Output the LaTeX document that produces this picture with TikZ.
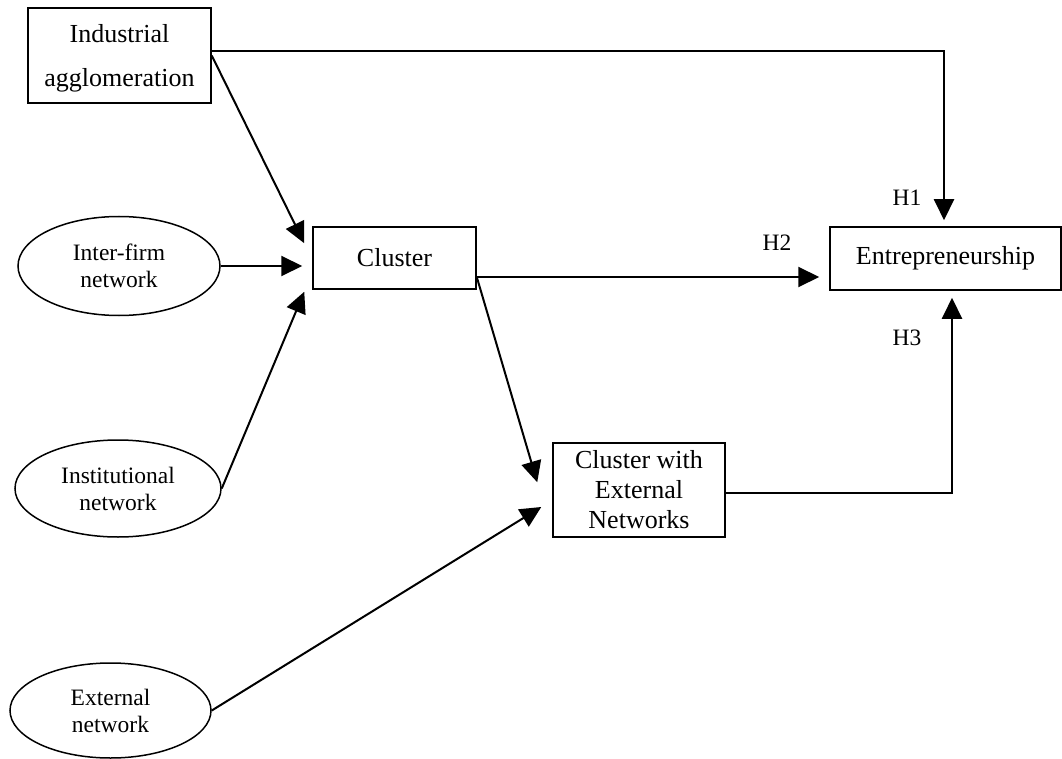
\documentclass[tikz,border=0pt]{standalone}
\usepackage{fontspec}
\setmainfont{Liberation Serif}
\usetikzlibrary{shapes.geometric,arrows.meta}
\tikzset{
  box/.style={draw, line width=1.5pt, rectangle, inner sep=0pt, align=center, font=\fontsize{26}{30}\selectfont},
  oval/.style={draw, line width=1.5pt, ellipse, inner sep=0pt, align=center, font=\fontsize{23.5}{27}\selectfont},
  conn/.style={line width=2pt, -{Triangle[length=21pt,width=20pt]}},
  hlabel/.style={inner sep=0pt, font=\fontsize{23.5}{27}\selectfont}
}
\begin{document}
\begin{tikzpicture}[x=1pt,y=-1pt]
\useasboundingbox (0,0) rectangle (1062,759);
\node[box, minimum width=183pt, minimum height=95pt, font=\fontsize{26}{44}\selectfont] (ia) at (119.5,55.5) {\rule{0pt}{24.6pt}Industrial\\agglomeration};
\node[box, minimum width=163pt, minimum height=62pt] (cl) at (394.5,258) {Cluster};
\node[box, minimum width=231pt, minimum height=63pt] (en) at (945.5,258.5) {Entrepreneurship};
\node[box, minimum width=172pt, minimum height=94pt] (cw) at (639,490) {Cluster with\\External\\Networks};
\node[oval, minimum width=202pt, minimum height=99pt] (if) at (119,266) {Inter-firm\\network};
\node[oval, minimum width=206pt, minimum height=97pt] (in) at (118,488.5) {Institutional\\network};
\node[oval, minimum width=201pt, minimum height=95pt] (ex) at (110.5,710.5) {External\\network};
\node[hlabel] (h1) at (907,198) {H1};
\node[hlabel] (h2) at (777,243) {H2};
\node[hlabel] (h3) at (907,338) {H3};
\coordinate (clout) at ([yshift=-19pt]cl.east);
% connectors
\draw[conn] ([yshift=4pt]ia.east) -| ([xshift=-1.5pt,yshift=6pt]en.north);
\draw[conn] (ia.east) -- ([xshift=-8pt,yshift=-17pt]cl.north west);
\draw[conn] (if.east) -- ([xshift=-10pt]if.east -| cl.west);
\draw[conn] (in.east) -- ([xshift=-8pt,yshift=-2pt]cl.south west);
\draw[conn] (clout) -- ([xshift=-10pt]clout -| en.west);
\draw[conn] (clout) -- ([xshift=-15pt,yshift=-40pt]cw.north west);
\draw[conn] (ex.east) -- ([xshift=-11pt,yshift=-17pt]cw.west);
\draw[conn] ([yshift=-3pt]cw.east) -| ([xshift=6.5pt,yshift=-7pt]en.south);
\end{tikzpicture}
\end{document}
